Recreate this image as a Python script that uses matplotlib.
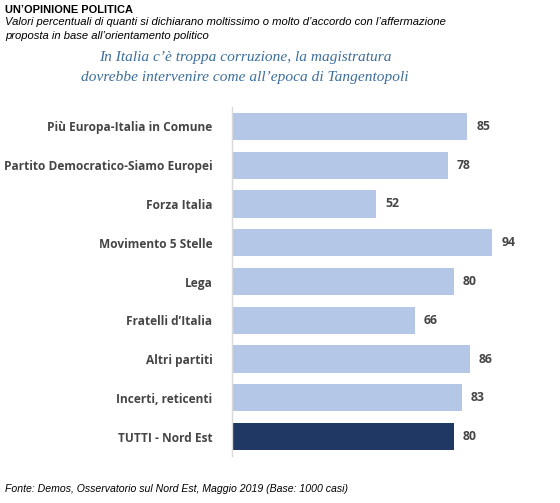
import matplotlib
matplotlib.use("Agg")
import matplotlib.pyplot as plt

categories = ["Più Europa-Italia in Comune", "Partito Democratico-Siamo Europei",
              "Forza Italia", "Movimento 5 Stelle", "Lega", "Fratelli d\u2019Italia",
              "Altri partiti", "Incerti, reticenti", "TUTTI - Nord Est"]
values = [85, 78, 52, 94, 80, 66, 86, 83, 80]

light = "#B4C7E7"
dark = "#1F3864"
colors = [light] * (len(values) - 1) + [dark]

W, H = 560, 503
fig = plt.figure(figsize=(W / 100, H / 100), dpi=100)
ax = fig.add_axes([232 / W, 1 - 456 / H, 277 / W, 349 / H])

lab_font = ["Open Sans", "DejaVu Sans"]
y = list(range(len(categories)))
ax.barh(y, values, height=0.70, color=colors)
ax.set_ylim(len(categories) - 0.5, -0.5)
ax.set_xlim(0, 100)
ax.set_yticks(y)
ax.set_yticklabels(categories, fontsize=8.55, fontweight="bold", color="#454545",
                   family=lab_font)
ax.tick_params(axis="y", length=0, pad=14)
ax.set_xticks([])
for s in ["top", "right", "bottom"]:
    ax.spines[s].set_visible(False)
ax.spines["left"].set_color("#D9D9D9")
ax.spines["left"].set_linewidth(1)

for yi, v in zip(y, values):
    ax.text(v + 3.2, yi, f"{v}", va="center", ha="left", fontsize=8.8,
            fontweight="bold", color="#454545", family=lab_font)

fig.text(5 / W, 1 - 10 / H, "UN\u2019OPINIONE POLITICA", fontsize=7.9, fontweight="bold",
         family="Liberation Sans", va="center", ha="left", color="#000000")
fig.text(5 / W, 1 - 22 / H, "Valori percentuali di quanti si dichiarano moltissimo o molto d\u2019accordo con l\u2019affermazione",
         fontsize=8.1, style="italic", family="Liberation Sans", va="center", ha="left")
fig.text(5 / W, 1 - 36 / H, "proposta in base all\u2019orientamento politico",
         fontsize=8.1, style="italic", family="Liberation Sans", va="center", ha="left")
fig.text(245 / W, 1 - 57 / H, "In Italia c\u2019\u00e8 troppa corruzione, la magistratura",
         fontsize=11.1, style="italic", family="Liberation Serif", color="#3C6E9E",
         va="center", ha="center")
fig.text(245 / W, 1 - 77 / H, "dovrebbe intervenire come all\u2019epoca di Tangentopoli",
         fontsize=11.1, style="italic", family="Liberation Serif", color="#3C6E9E",
         va="center", ha="center")
fig.text(5 / W, 1 - 489 / H, "Fonte: Demos, Osservatorio sul Nord Est, Maggio 2019 (Base: 1000 casi)",
         fontsize=7.6, style="italic", family="Liberation Sans", va="center", ha="left")

fig.savefig("out.png", dpi=100)
